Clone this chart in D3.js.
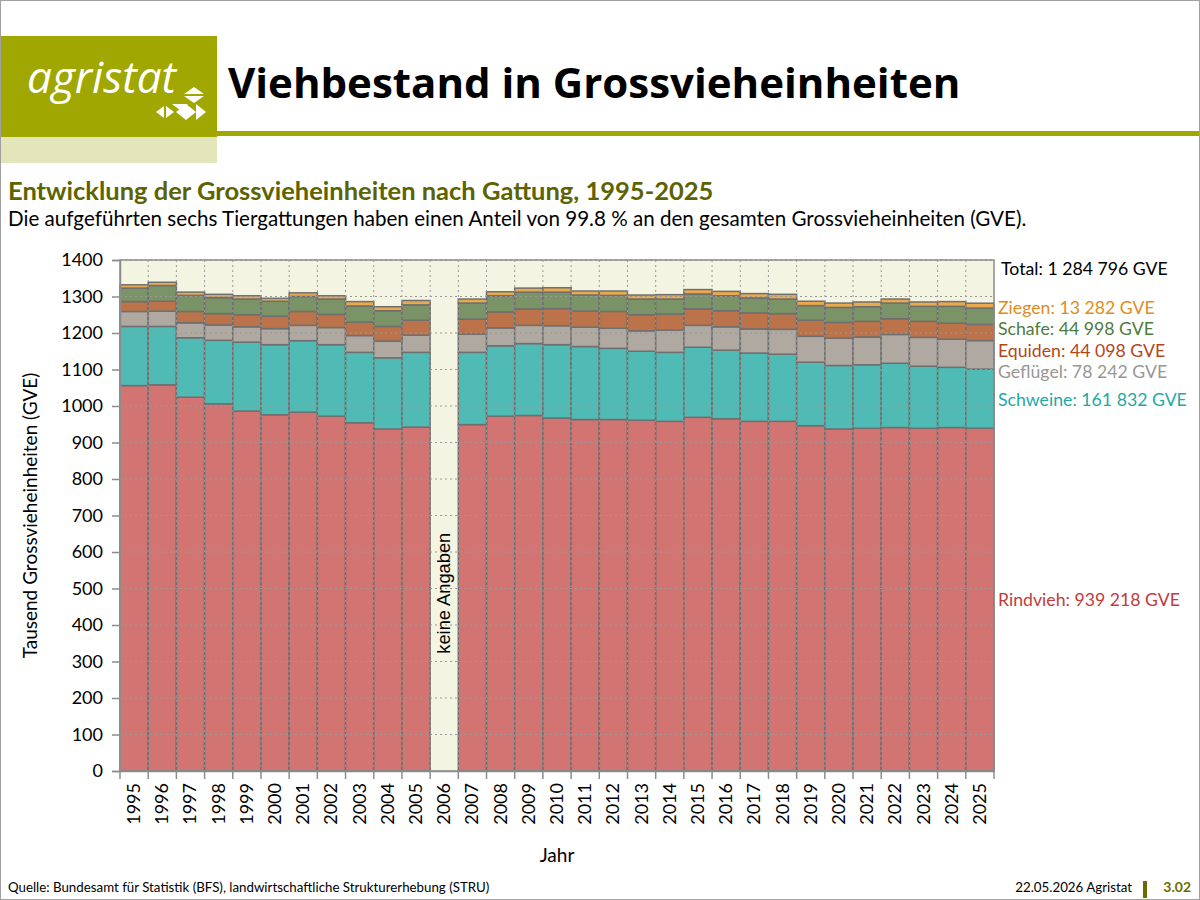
<!DOCTYPE html>
<html lang="de">
<head>
<meta charset="UTF-8">
<title>Viehbestand in Grossvieheinheiten</title>
<script src="https://d3js.org/d3.v7.min.js"></script>
<style>
    body { margin: 0; background: #fff; }
    svg { display: block; font-family: Lato, 'Open Sans', sans-serif; }
    .tick-label { font-size: 18px; fill: #000; }
    .grid { stroke: #999; stroke-width: 1; stroke-dasharray: 2,3; }
    .bar { stroke: #6f6f6f; stroke-width: 1.5; }
</style>
</head>
<body>
<svg width="1200" height="900"></svg>
<script>
// years and values in thousand GVE (2006: no data)
var years = d3.range(1995, 2026).map(String);

var rindvieh  = [1056,1058,1024,1006,986,976,983,972,954,937,942,null,949,972,974,967,963,963,961,958,969,965,958,958,946,937,939,941,939,941,939.2];
var schweine  = [162,160,163,174,189,192,196,196,193,195,205,null,198,193,197,201,200,195,189,189,192,188,187,184,174,174,174,176,170,165,161.8];
var gefluegel = [41,42,41,42,42,44,42,47,46,46,47,null,50,49,50,52,53,55,56,61,60,64,66,68,71,75,76,79,79,77,78.2];
var equiden   = [27,27,31,31,33,34,38,36,37,40,41,null,41,44,45,47,44,46,44,44,45,44,44,43,44,43,43,43,44,44,44.1];
var schafe    = [37,43,44,44,43,41,41,42,44,43,42,null,44,44,46,45,44,44,43,41,41,41,41,40,40,41,40,43,41,46,45.0];
var ziegen    = [9,9,9,9,9,8,10,9,12,11,12,null,11,11,11,12,11,12,11,12,12,12,12,13,12,12,13,11,12,13,13.3];

var seriesKeys   = ["rindvieh", "schweine", "gefluegel", "equiden", "schafe", "ziegen"];
var seriesLabels = ["Rindvieh: 939 218 GVE", "Schweine: 161 832 GVE", "Geflügel: 78 242 GVE",
                    "Equiden: 44 098 GVE", "Schafe: 44 998 GVE", "Ziegen: 13 282 GVE"];
var totalLabel = "Total: 1 284 796 GVE";
var yTicks = d3.range(0, 1401, 100);

var fills     = ["#d27471", "#50bab4", "#b0a9a2", "#bc7349", "#7b9467", "#e8aa4c"];
var textCols  = ["#c23b3c", "#1fa9a5", "#9a9693", "#b3461c", "#4f7b3c", "#e08c22"];
var labelY    = [606, 406, 378, 357, 335, 314];

var svg = d3.select("svg");

// ---- header ----
svg.append("rect").attr("x", 0).attr("y", 36).attr("width", 217).attr("height", 101).attr("fill", "#a0a700");
svg.append("rect").attr("x", 0).attr("y", 137).attr("width", 217).attr("height", 26).attr("fill", "#e3e5ba");
svg.append("rect").attr("x", 217).attr("y", 131).attr("width", 983).attr("height", 5).attr("fill", "#a0a700");

svg.append("text").attr("x", 27).attr("y", 93)
    .attr("fill", "#fff").style("font-size", "44px").style("font-style", "italic")
    .style("font-family", "'Open Sans', sans-serif")
    .text("agristat");

// little logo marks
var logo = svg.append("g").attr("fill", "#fff");
logo.append("path").attr("d", "M184,94 L194,87 L204,94 Z");
logo.append("path").attr("d", "M184,96 L204,96 L194,103 Z");
logo.append("path").attr("d", "M156,112 L164,106 L164,118 Z");
logo.append("path").attr("d", "M166,106 L174,112 L166,118 Z");
logo.append("path").attr("d", "M172,104 L188,104 L180,110 Z");
logo.append("path").attr("d", "M186,104 L196,112 L186,120 L176,112 Z");
logo.append("path").attr("d", "M196,104 L206,112 L196,120 Z");

svg.append("text").attr("x", 228).attr("y", 98)
    .style("font-size", "42px").style("font-weight", "bold")
    .style("font-family", "'Open Sans', sans-serif")
    .text("Viehbestand in Grossvieheinheiten");

svg.append("text").attr("x", 8).attr("y", 200)
    .attr("fill", "#5d6300").style("font-size", "25.5px").style("font-weight", "bold")
    .text("Entwicklung der Grossvieheinheiten nach Gattung, 1995-2025");
svg.append("text").attr("x", 8).attr("y", 226)
    .style("font-size", "20.6px")
    .text("Die aufgeführten sechs Tiergattungen haben einen Anteil von 99.8 % an den gesamten Grossvieheinheiten (GVE).");

// ---- chart ----
var x = d3.scaleBand().domain(years).range([120, 994]).padding(0);
var y = d3.scaleLinear().domain([0, 1400]).range([771, 260]);

svg.append("rect").attr("x", 120).attr("y", 260)
    .attr("width", 874).attr("height", 511).attr("fill", "#f4f4e3");

var table = years.map(function(yr, i) {
    return { year: yr, rindvieh: rindvieh[i], schweine: schweine[i], gefluegel: gefluegel[i],
             equiden: equiden[i], schafe: schafe[i], ziegen: ziegen[i] };
}).filter(function(d) { return d.rindvieh !== null; });

var stacked = d3.stack().keys(seriesKeys)(table);

svg.append("g").selectAll("g")
    .data(stacked)
    .join("g")
    .attr("fill", function(d, i) { return fills[i]; })
    .selectAll("rect")
    .data(function(d) { return d; })
    .join("rect")
    .attr("class", "bar")
    .attr("x", function(d) { return x(d.data.year); })
    .attr("width", x.bandwidth())
    .attr("y", function(d) { return y(d[1]); })
    .attr("height", function(d) { return y(d[0]) - y(d[1]); });

// grid on top (dotted)
svg.append("g").selectAll("line.h")
    .data(yTicks.slice(1))
    .join("line").attr("class", "grid")
    .attr("x1", 120).attr("x2", 994)
    .attr("y1", function(d) { return y(d); }).attr("y2", function(d) { return y(d); });
svg.append("g").selectAll("line.v")
    .data(years.slice(1))
    .join("line").attr("class", "grid")
    .attr("x1", function(d) { return x(d); }).attr("x2", function(d) { return x(d); })
    .attr("y1", 260).attr("y2", 771);

// frame
svg.append("rect").attr("x", 120).attr("y", 260).attr("width", 874).attr("height", 511)
    .attr("fill", "none").attr("stroke", "#8c8c8c").attr("stroke-width", 1.5);

// axes
var yAxis = svg.append("g").attr("transform", "translate(120,0)")
    .call(d3.axisLeft(y).tickValues(yTicks).tickFormat(d3.format("d")).tickSize(8).tickPadding(9));
yAxis.select(".domain").attr("stroke", "#8c8c8c").attr("stroke-width", 1.5);
yAxis.selectAll(".tick line").attr("stroke", "#8c8c8c").attr("stroke-width", 1.5);
yAxis.selectAll(".tick text").attr("class", "tick-label").style("font-family", "Lato, sans-serif");

var xAxis = svg.append("g").attr("transform", "translate(0,771)")
    .call(d3.axisBottom(x).tickSize(0).tickPadding(0));
xAxis.select(".domain").attr("stroke", "#8c8c8c").attr("stroke-width", 1.5);
xAxis.selectAll(".tick text")
    .attr("class", "tick-label")
    .style("font-family", "Lato, sans-serif")
    .attr("text-anchor", "end")
    .attr("transform", "translate(6,12) rotate(-90)")
    .attr("dy", 0).attr("y", 0).attr("x", 0);
svg.append("g").selectAll("line")
    .data(years.concat(["end"]))
    .join("line")
    .attr("x1", function(d) { return d === "end" ? 994 : x(d); })
    .attr("x2", function(d) { return d === "end" ? 994 : x(d); })
    .attr("y1", 771).attr("y2", 779)
    .attr("stroke", "#8c8c8c").attr("stroke-width", 1.5);

// keine Angaben
svg.append("text")
    .attr("transform", "translate(" + (x("2006") + x.bandwidth() / 2 + 6) + "," + y(487) + ") rotate(-90)")
    .attr("text-anchor", "middle")
    .style("font-family", "'Liberation Sans', Arial, sans-serif").style("font-size", "18.3px")
    .text("keine Angaben");

// axis titles
svg.append("text")
    .attr("transform", "translate(37," + y(700) + ") rotate(-90)")
    .attr("text-anchor", "middle").style("font-size", "19px")
    .text("Tausend Grossvieheinheiten (GVE)");
svg.append("text").attr("x", 557).attr("y", 862).attr("text-anchor", "middle")
    .style("font-size", "19px").text("Jahr");

// labels on the right
svg.append("text").attr("x", 1001).attr("y", 275).style("font-size", "17.7px").text(totalLabel);
svg.append("g").selectAll("text")
    .data(seriesLabels)
    .join("text")
    .attr("x", 998)
    .attr("y", function(d, i) { return labelY[i]; })
    .attr("fill", function(d, i) { return textCols[i]; })
    .style("font-size", "17.7px")
    .text(function(d) { return d; });

// footer
svg.append("text").attr("x", 8).attr("y", 892).style("font-size", "13.3px")
    .text("Quelle: Bundesamt für Statistik (BFS), landwirtschaftliche Strukturerhebung (STRU)");
svg.append("text").attr("x", 1132).attr("y", 892).attr("text-anchor", "end").style("font-size", "13.3px")
    .text("22.05.2026 Agristat");
svg.append("rect").attr("x", 1143).attr("y", 881).attr("width", 4).attr("height", 17).attr("fill", "#6b6b00");
svg.append("text").attr("x", 1191).attr("y", 892).attr("text-anchor", "end")
    .attr("fill", "#6b6b00").style("font-size", "14px").style("font-weight", "bold")
    .text("3.02");

// page border
svg.append("rect").attr("x", 0.5).attr("y", 0.5).attr("width", 1199).attr("height", 899)
    .attr("fill", "none").attr("stroke", "#a0a0a0");
</script>
</body>
</html>
